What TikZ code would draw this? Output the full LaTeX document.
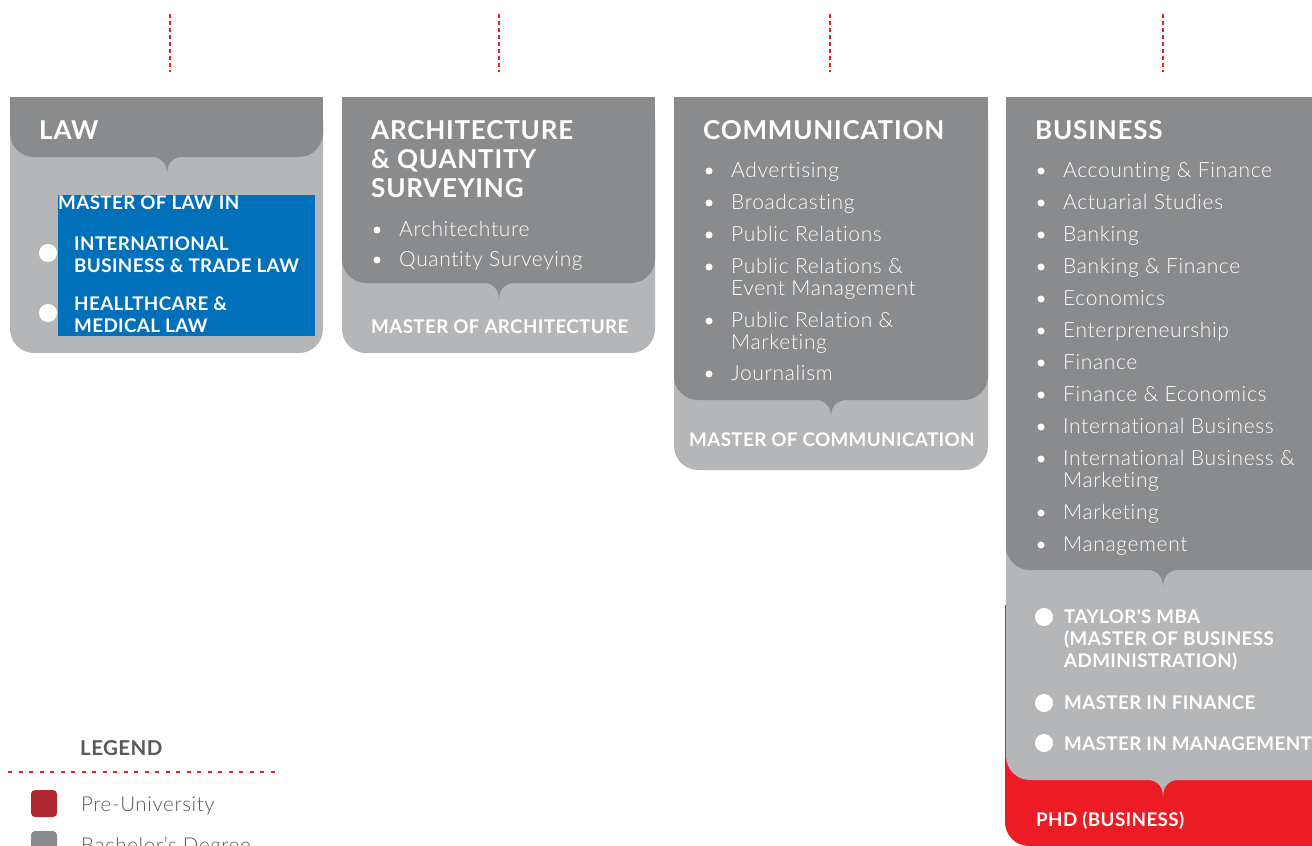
\documentclass[tikz,border=0pt]{standalone}
\usepackage{fontspec}
\setmainfont{Lato}
\newfontfamily\lightfont{Lato Light}[LetterSpace=3,Ligatures=NoCommon]
\newfontfamily\headfont{Lato}[LetterSpace=3,Ligatures=NoCommon]
\newfontfamily\mastfont{Lato}[LetterSpace=2,Ligatures=NoCommon]
\definecolor{dgray}{HTML}{8A8B8D}
\definecolor{lgray}{HTML}{B5B6B8}
\definecolor{pred}{HTML}{ED1C24}
\definecolor{lblue}{HTML}{0070BA}
\definecolor{legred}{HTML}{B0282F}
\definecolor{legtxt}{HTML}{58595B}
\tikzset{
  head/.style={anchor=base west, text=white, font=\headfont\bfseries\fontsize{26}{29}\selectfont, inner sep=0},
  item/.style={anchor=base west, text=white, font=\lightfont\fontsize{21}{22}\selectfont, inner sep=0},
  bul/.style={circle, fill=white, inner sep=0, minimum size=7pt},
  mast/.style={anchor=base west, text=white, font=\mastfont\bfseries\fontsize{18.8}{22}\selectfont, inner sep=0},
  mdot/.style={circle, fill=white, inner sep=0, minimum size=18pt},
  rdots/.style={draw=pred, line width=2.5pt, dash pattern=on 3.5pt off 3.5pt},
  ldots/.style={draw=pred, line width=2.5pt, dash pattern=on 4pt off 6.5pt},
  legtext/.style={anchor=base west, text=legtxt, font=\lightfont\fontsize{20.5}{22}\selectfont, inner sep=0},
}
\newcommand{\colbox}[4]{%
  \fill[#4, rounded corners=24pt] (#1,97) rectangle (#2,#3);
  \fill[#4] (#1,97) rectangle (#2,130);}
\newcommand{\notch}[3]{%
  \fill[#3] (#1-22,#2-1) .. controls (#1-8,#2-1) and (#1,#2+4) .. (#1,#2+17)
    .. controls (#1,#2+4) and (#1+8,#2-1) .. (#1+22,#2-1) -- cycle;}
\newcommand{\itm}[4]{%
  \node[bul] at (#2+6,#3-6) {};
  \node[item] (#1) at (#2+28,#3) {#4};}
\newcommand{\itmtwo}[5]{%
  \node[bul] at (#2+6,#3-6) {};
  \node[item] (#1) at (#2+28,#3) {#4};
  \node[item] (#1b) at (#2+28,#3+22) {#5};}
\begin{document}
\begin{tikzpicture}[x=1pt,y=-1pt]
\useasboundingbox (0,0) rectangle (1312,846);
\clip (0,0) rectangle (1312,846);
\fill[white] (0,0) rectangle (1312,846);

% top dotted lines
\draw[rdots] (170,14) -- (170,72);
\draw[rdots] (499,14) -- (499,72);
\draw[rdots] (830,14) -- (830,72);
\draw[rdots] (1163,14) -- (1163,72);

% ---------- LAW ----------
\colbox{10}{323}{353}{lgray}
\colbox{10}{323}{157}{dgray}
\notch{167}{157}{dgray}
\node[head] (law) at (39,139) {LAW};
\node[mdot] (ld1) at (48,253) {};
\node[mdot] (ld2) at (48,313) {};
\fill[lblue] (58,195) rectangle (315,336);
\node[mast] (lawm) at (58,209) {MASTER OF LAW IN};
\node[mast] (lawm1) at (74,250) {INTERNATIONAL};
\node[mast] (lawm1b) at (74,272) {BUSINESS \& TRADE LAW};
\node[mast] (lawm2) at (74,310) {HEALLTHCARE \&};
\node[mast] (lawm2b) at (74,332) {MEDICAL LAW};

% ---------- ARCHITECTURE ----------
\colbox{342}{655}{353}{lgray}
\colbox{342}{655}{283}{dgray}
\notch{499}{283}{dgray}
\node[head] (arch1) at (371,139) {ARCHITECTURE};
\node[head] (arch2) at (371,168) {\& QUANTITY};
\node[head] (arch3) at (371,197) {SURVEYING};
\itm{a1}{371}{236}{Architechture}
\itm{a2}{371}{266}{Quantity Surveying}
\node[mast] (archm) at (371,333) {MASTER OF ARCHITECTURE};

% ---------- COMMUNICATION ----------
\colbox{674}{988}{470}{lgray}
\colbox{674}{988}{400}{dgray}
\notch{831}{400}{dgray}
\node[head] (comm) at (703,139) {COMMUNICATION};
\itm{c1}{703}{177}{Advertising}
\itm{c2}{703}{209}{Broadcasting}
\itm{c3}{703}{241}{Public Relations}
\itmtwo{c4}{703}{273}{Public Relations \&}{Event Management}
\itmtwo{c5}{703}{327}{Public Relation \&}{Marketing}
\itm{c6}{703}{380}{Journalism}
\node[mast] (commm) at (689,446) {MASTER OF COMMUNICATION};

% ---------- BUSINESS ----------
\fill[pred, rounded corners=24pt] (1005,605) rectangle (1360,846);
\fill[pred] (1005,605) rectangle (1360,700);
\colbox{1006}{1360}{780}{lgray}
\notch{1163}{780}{lgray}
\colbox{1006}{1360}{570}{dgray}
\notch{1163}{570}{dgray}
\node[head] (bus) at (1035,139) {BUSINESS};
\itm{b1}{1035}{177}{Accounting \& Finance}
\itm{b2}{1035}{209}{Actuarial Studies}
\itm{b3}{1035}{241}{Banking}
\itm{b4}{1035}{273}{Banking \& Finance}
\itm{b5}{1035}{305}{Economics}
\itm{b6}{1035}{337}{Enterpreneurship}
\itm{b7}{1035}{369}{Finance}
\itm{b8}{1035}{401}{Finance \& Economics}
\itm{b9}{1035}{433}{International Business}
\itmtwo{b10}{1035}{465}{International Business \&}{Marketing}
\itm{b11}{1035}{519}{Marketing}
\itm{b12}{1035}{551}{Management}
\node[mdot] (bd1) at (1044,617) {};
\node[mast] (bm1) at (1064,623) {TAYLOR'S MBA};
\node[mast] (bm1b) at (1064,645) {(MASTER OF BUSINESS};
\node[mast] (bm1c) at (1064,667) {ADMINISTRATION)};
\node[mdot] (bd2) at (1044,703) {};
\node[mast] (bm2) at (1064,709) {MASTER IN FINANCE};
\node[mdot] (bd3) at (1044,743) {};
\node[mast] (bm3) at (1064,750) {MASTER IN MANAGEMENT};
\node[mast] (phd) at (1036,826) {PHD (BUSINESS)};

% ---------- LEGEND ----------
\node[anchor=base west, text=legtxt, font=\mastfont\bfseries\fontsize{20.5}{22}\selectfont, inner sep=0] (leg) at (80,755) {LEGEND};
\draw[ldots] (8,772) -- (280,772);
\fill[legred, rounded corners=4pt] (31,790) rectangle (57,817);
\node[legtext] (pre) at (81,811) {Pre-University};
\fill[dgray, rounded corners=4pt] (31,831) rectangle (57,858);
\node[legtext] (bach) at (81,852) {Bachelor’s Degree};
\end{tikzpicture}
\end{document}
